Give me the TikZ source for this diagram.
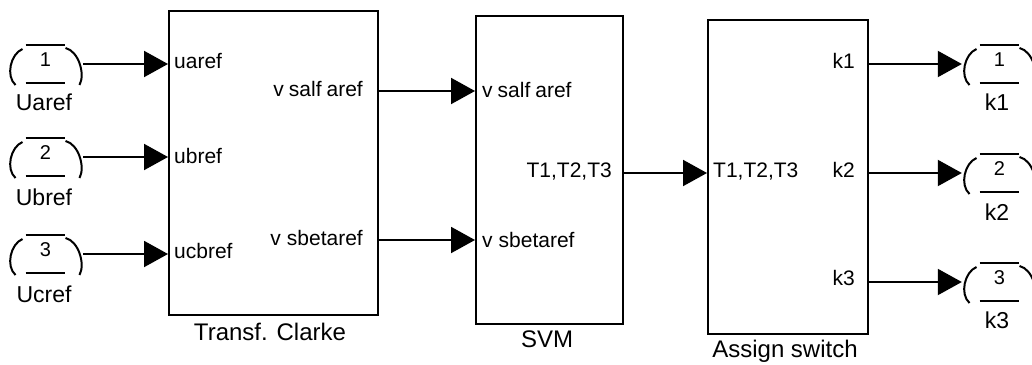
\documentclass[tikz,border=0pt]{standalone}
\usepackage{fontspec}
\setmainfont{Liberation Sans}
\usetikzlibrary{arrows.meta}
\newcommand\simport[4]{%
  \node[portbody] (#1) at (#2,#3) {};
  \node[portnum] at (#2,#3-4) {#4};
  \begin{scope}[shift={(#2,#3)}]
    \draw[wire] (-20,-19) -- (19,-19) (-20,19) -- (19,19);
    \draw[wire] (-23,-15) .. controls (-35,-10) and (-40,12) .. (-30,21);
    \draw[wire] (20,-16) .. controls (33,-13) and (40,10) .. (34,21);
  \end{scope}}
\begin{document}
\begin{tikzpicture}[x=1pt,y=-1pt,
  blk/.style={draw,line width=2pt,inner sep=0pt,anchor=north west},
  wire/.style={line width=2pt},
  sig/.style={line width=2pt,-{Triangle[length=24pt,width=26pt]}},
  lbl/.style={inner sep=0pt,font=\fontsize{21}{25}\selectfont},
  ttl/.style={inner sep=0pt,anchor=base,font=\fontsize{24}{28}\selectfont},
  plbl/.style={inner sep=0pt,anchor=base,font=\fontsize{23}{27}\selectfont},
  portnum/.style={inner sep=0pt,font=\fontsize{20}{24}\selectfont},
  portbody/.style={inner sep=0pt,minimum width=75pt,minimum height=38pt},
]
\useasboundingbox (0,0) rectangle (1032,364);

% blocks
\node[blk,minimum width=209pt,minimum height=304pt] (clarke) at (168,10) {};
\node[blk,minimum width=147pt,minimum height=308pt] (svm) at (475,15) {};
\node[blk,minimum width=160pt,minimum height=314pt] (assign) at (707,19) {};

% titles
\node[ttl] (tclarke) at (270,340) {Transf. Clarke};
\node[ttl] (tsvm) at (547,347) {SVM};
\node[ttl] (tassign) at (785,357) {Assign switch};

% ports
\simport{in1}{45.5}{64}{1}
\simport{in2}{45.5}{157}{2}
\simport{in3}{45.5}{254}{3}
\simport{out1}{999.5}{64}{1}
\simport{out2}{999.5}{173}{2}
\simport{out3}{999.5}{282}{3}

\node[plbl] (lin1) at (44,110) {Uaref};
\node[plbl] (lin2) at (44,205) {Ubref};
\node[plbl] (lin3) at (44,302) {Ucref};
\node[plbl] (lout1) at (997,110) {k1};
\node[plbl] (lout2) at (997,220) {k2};
\node[plbl] (lout3) at (997,328) {k3};

% inner labels
\node[lbl,anchor=base west] (ua) at (174,68) {uaref};
\node[lbl,anchor=base west] (ub) at (174,163) {ubref};
\node[lbl,anchor=base west] (uc) at (174,258) {ucbref};
\node[lbl,anchor=base east] (va) at (363,96) {v\kern5pt salf\kern5pt aref};
\node[lbl,anchor=base east] (vb) at (363,245) {v\kern6pt sbetaref};

\node[lbl,anchor=base west] (sa) at (482,97) {v\kern5pt salf\kern5pt aref};
\node[lbl,anchor=base west] (sb) at (482,247) {v\kern6pt sbetaref};
\node[lbl,anchor=base east] (st) at (612,177) {T1,T2,T3};

\node[lbl,anchor=base west] (at) at (713,177) {T1,T2,T3};
\node[lbl,anchor=base east] (ak1) at (855,68) {k1};
\node[lbl,anchor=base east] (ak2) at (855,177) {k2};
\node[lbl,anchor=base east] (ak3) at (855,285) {k3};

% connectors
\draw[sig] (in1.east) -- (in1.east -| clarke.west);
\draw[sig] (in2.east) -- (in2.east -| clarke.west);
\draw[sig] (in3.east) -- (in3.east -| clarke.west);
\draw[sig] (clarke.east |- 0,91) -- (svm.west |- 0,91);
\draw[sig] (clarke.east |- 0,240) -- (svm.west |- 0,240);
\draw[sig] (svm.east |- 0,173) -- (assign.west |- 0,173);
\draw[sig] (assign.east |- out1.west) -- (out1.west);
\draw[sig] (assign.east |- out2.west) -- (out2.west);
\draw[sig] (assign.east |- out3.west) -- (out3.west);
\end{tikzpicture}
\end{document}
